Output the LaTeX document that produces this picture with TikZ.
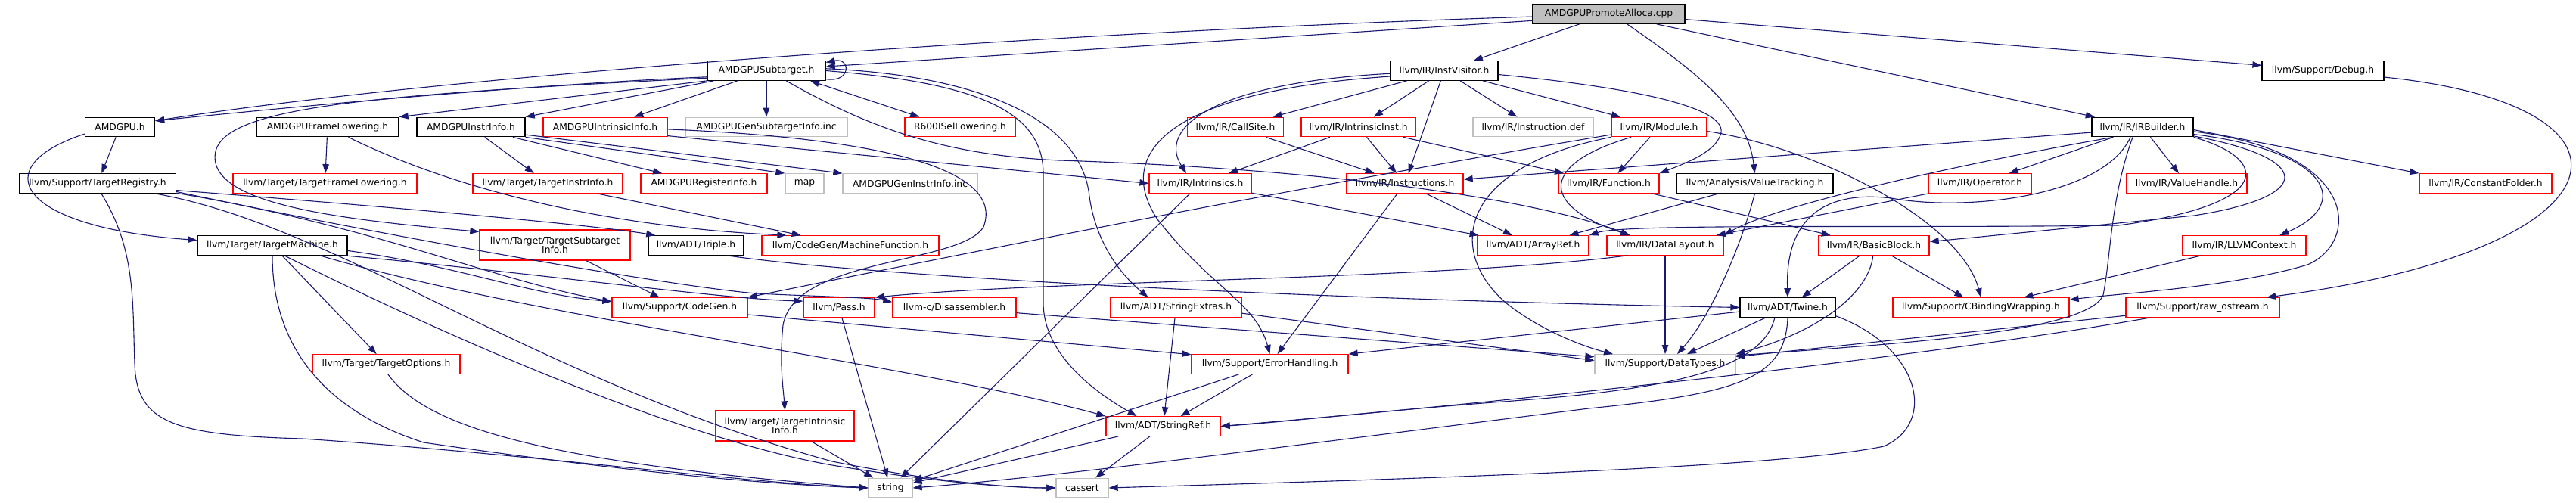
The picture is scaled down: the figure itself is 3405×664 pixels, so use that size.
\documentclass[tikz,border=0pt]{standalone}
\usepackage{fontspec}
\setmainfont{DejaVu Sans}
\usetikzlibrary{arrows.meta}
\definecolor{edgeblue}{HTML}{191970}
\definecolor{ngray}{HTML}{BFBFBF}
\definecolor{nred}{HTML}{FF0000}
\begin{document}
\begin{tikzpicture}[x=1pt,y=-1pt,
  box/.style={rectangle, inner sep=0pt, minimum height=25.5pt, font=\fontsize{12.3}{14.5}\selectfont, line width=1.3pt, fill=white, align=center},
  bk/.style={box, draw=black},
  rd/.style={box, draw=nred},
  gr/.style={box, draw=ngray},
  e/.style={draw=edgeblue, line width=1.1pt, -{Triangle[length=12pt,width=8.5pt]}},
  e2/.style={draw=edgeblue, line width=1.1pt, {Triangle[length=12pt,width=8.5pt]}-{Triangle[length=12pt,width=8.5pt]}}]
\useasboundingbox (0,0) rectangle (3405,664);
% rank 0-1
\node[bk,fill=ngray,minimum width=201pt] (P) at (2126.5,18.5) {AMDGPUPromoteAlloca.cpp};
\node[bk,minimum width=156pt] (SUB) at (1013,93.5) {AMDGPUSubtarget.h};
\node[bk,minimum width=142pt] (IV) at (1909,93.5) {llvm/IR/InstVisitor.h};
\node[bk,minimum width=161pt] (DBG) at (3070.5,93.5) {llvm/Support/Debug.h};
% rank 2
\node[bk,minimum width=92pt] (AMDGPU) at (158.5,168) {AMDGPU.h};
\node[bk,minimum width=188pt] (FL) at (433,168) {AMDGPUFrameLowering.h};
\node[bk,minimum width=143pt] (II) at (622.5,168) {AMDGPUInstrInfo.h};
\node[rd,minimum width=164pt] (IIN) at (800,168) {AMDGPUIntrinsicInfo.h};
\node[gr,minimum width=214pt] (GSI) at (1013,168) {AMDGPUGenSubtargetInfo.inc};
\node[rd,minimum width=146pt] (R600) at (1269,168) {R600ISelLowering.h};
\node[rd,minimum width=127pt] (CS) at (1633,168) {llvm/IR/CallSite.h};
\node[rd,minimum width=151pt] (IInst) at (1795.5,168) {llvm/IR/IntrinsicInst.h};
\node[gr,minimum width=159pt] (IDEF) at (2026.5,168) {llvm/IR/Instruction.def};
\node[rd,minimum width=126pt] (MOD) at (2193,168) {llvm/IR/Module.h};
\node[bk,minimum width=134pt] (IRB) at (2832,168) {llvm/IR/IRBuilder.h};
% rank 3
\node[bk,minimum width=207pt] (TR) at (129,242.5) {llvm/Support/TargetRegistry.h};
\node[rd,minimum width=243pt] (TFL) at (429.5,242.5) {llvm/Target/TargetFrameLowering.h};
\node[rd,minimum width=198pt] (TII) at (724,242.5) {llvm/Target/TargetInstrInfo.h};
\node[rd,minimum width=167pt] (RI) at (930.5,242.5) {AMDGPURegisterInfo.h};
\node[gr,minimum width=51pt] (MAP) at (1063.5,242.5) {map};
\node[gr,minimum width=178pt] (GII) at (1203,242.5) {AMDGPUGenInstrInfo.inc};
\node[rd,minimum width=135pt] (INTR) at (1586.5,242.5) {llvm/IR/Intrinsics.h};
\node[rd,minimum width=154pt] (INS) at (1857,242.5) {llvm/IR/Instructions.h};
\node[rd,minimum width=133pt] (FN) at (2126.5,242.5) {llvm/IR/Function.h};
\node[bk,minimum width=207pt] (VT) at (2319.5,242.5) {llvm/Analysis/ValueTracking.h};
\node[rd,minimum width=136pt] (OP) at (2617,242.5) {llvm/IR/Operator.h};
\node[rd,minimum width=159pt] (VH) at (2890.5,242.5) {llvm/IR/ValueHandle.h};
\node[rd,minimum width=175pt] (CF) at (3285.5,242.5) {llvm/IR/ConstantFolder.h};
% rank 4
\node[bk,minimum width=198pt] (TM) at (360,324.5) {llvm/Target/TargetMachine.h};
\node[rd,minimum width=199pt,minimum height=40pt] (TSI) at (733.5,324) {llvm/Target/TargetSubtarget\\[-2pt]Info.h};
\node[bk,minimum width=126pt] (TRI) at (920,324.5) {llvm/ADT/Triple.h};
\node[rd,minimum width=234pt] (MF) at (1124,324.5) {llvm/CodeGen/MachineFunction.h};
\node[rd,minimum width=147pt] (AR) at (2026.5,324.5) {llvm/ADT/ArrayRef.h};
\node[rd,minimum width=154pt] (DL) at (2201,324.5) {llvm/IR/DataLayout.h};
\node[rd,minimum width=146pt] (BB) at (2477,324.5) {llvm/IR/BasicBlock.h};
\node[rd,minimum width=163pt] (CTX) at (2966.5,324.5) {llvm/IR/LLVMContext.h};
% rank 5
\node[rd,minimum width=179pt] (CG) at (898.5,406.5) {llvm/Support/CodeGen.h};
\node[rd,minimum width=94pt] (PASS) at (1109,406.5) {llvm/Pass.h};
\node[rd,minimum width=163pt] (DIS) at (1261.5,406.5) {llvm-c/Disassembler.h};
\node[rd,minimum width=173pt] (SE) at (1554.5,406.5) {llvm/ADT/StringExtras.h};
\node[bk,minimum width=126pt] (TW) at (2363,406.5) {llvm/ADT/Twine.h};
\node[rd,minimum width=233pt] (CBW) at (2618.5,406.5) {llvm/Support/CBindingWrapping.h};
\node[rd,minimum width=203pt] (RAW) at (2911.5,406.5) {llvm/Support/raw\_ostream.h};
% rank 6
\node[rd,minimum width=195pt] (TO) at (510.5,481.5) {llvm/Target/TargetOptions.h};
\node[rd,minimum width=207pt] (EH) at (1678.5,481.5) {llvm/Support/ErrorHandling.h};
\node[gr,minimum width=186pt] (DT) at (2201,481.5) {llvm/Support/DataTypes.h};
% rank 7
\node[rd,minimum width=183pt,minimum height=40pt] (TIIn) at (1037.5,563) {llvm/Target/TargetIntrinsic\\[-2pt]Info.h};
\node[rd,minimum width=151pt] (SR) at (1537.5,563.5) {llvm/ADT/StringRef.h};
% rank 8
\node[gr,minimum width=58pt] (STR) at (1177,645) {string};
\node[gr,minimum width=69pt] (CAS) at (1430.5,645) {cassert};

% ---- edges ----
% P
\draw[e] (P.185) -- (SUB.4);
\draw[e] (P.182) .. controls (1400,42) and (600,98) .. (AMDGPU.10);
\draw[e] (P) -- (IV);
\draw[e] (P.-29) .. controls (2250,100) and (2310,150) .. (VT.north);
\draw[e] (P) -- (IRB);
\draw[e] (P.-4) -- (DBG.175);
% SUB
\draw[e] (SUB.-8) .. controls (1125,110) and (1125,76) .. (SUB.8);
\draw[e] (SUB.186) .. controls (700,112) and (400,140) .. (AMDGPU.10);
\draw[e] (SUB.south west) -- (FL.north east);
\draw[e] (SUB.187) .. controls (500,125) and (300,140) .. (285,200) .. controls (270,270) and (450,290) .. (TSI.170);
\draw[e] (SUB) -- (II.north east);
\draw[e] (SUB) -- (IIN);
\draw[e] (SUB) -- (GSI);
\draw[e2] (SUB.-13) -- (R600.166);
\draw[e] (SUB.2) .. controls (1300,100) and (1430,160) .. (1440,260) .. controls (1450,330) and (1490,370) .. (SE.160);
\draw[e] (SUB.0) .. controls (1300,110) and (1379,150) .. (1379,230) -- (1379,400) .. controls (1379,470) and (1450,520) .. (SR.159);
\draw[e] (SUB.-27) .. controls (1150,170) and (1250,205) .. (1400,212) .. controls (1800,225) and (2050,270) .. (DL.164);
% AMDGPU, FL, II, IIN
\draw[e] (AMDGPU) -- (TR);
\draw[e] (AMDGPU.191) .. controls (-20,220) and (20,300) .. (TM.176);
\draw[e] (FL) -- (TFL);
\draw[e] (FL.-26) .. controls (600,250) and (800,300) .. (MF.171);
\draw[e] (II) -- (TII);
\draw[e] (II) -- (RI);
\draw[e] (II.south east) -- (MAP.north west);
\draw[e] (II.-8) -- (GII.north west);
\draw[e] (IIN.-8) -- (INTR.west);
\draw[e] (IIN.-2) .. controls (1150,182) and (1330,220) .. (1300,300) .. controls (1270,350) and (1050,340) .. (1035,430) .. controls (1030,480) and (1035,510) .. (TIIn.north);
\draw[e] (TII) -- (MF);
% IV
\draw[e] (IV) -- (CS);
\draw[e] (IV) -- (IInst);
\draw[e] (IV) -- (IDEF);
\draw[e] (IV) -- (MOD);
\draw[e] (IV) -- (INS);
\draw[e] (IV.-4) .. controls (2150,115) and (2280,140) .. (2275,175) .. controls (2270,200) and (2230,215) .. (FN.north east);
\draw[e] (IV.183) .. controls (1600,110) and (1530,170) .. (INTR.144);
\draw[e] (IV.186) .. controls (1550,120) and (1470,200) .. (1530,290) .. controls (1600,380) and (1660,400) .. (EH.north);
% DBG
\draw[e] (DBG.-6) .. controls (3520,140) and (3480,330) .. (RAW.9);
% IRB
\draw[e] (IRB.186) -- (INS.4);
\draw[e] (IRB) -- (OP);
\draw[e] (IRB) -- (VH);
\draw[e] (IRB.-3) -- (CF.north west);
\draw[e] (IRB.-5) .. controls (3120,200) and (3120,320) .. (3050,350) .. controls (2950,380) and (2800,388) .. (CBW.5);
\draw[e] (IRB.-8) .. controls (3080,200) and (3110,270) .. (CTX.16);
\draw[e] (IRB.-10) .. controls (3060,210) and (3060,260) .. (2900,285) .. controls (2700,305) and (2600,315) .. (BB.4);
\draw[e] (IRB.south east) .. controls (3000,210) and (3010,270) .. (2800,298) .. controls (2500,302) and (2150,295) .. (AR.north east);
\draw[e] (IRB.-161) .. controls (2600,215) and (2350,270) .. (DL.north east);
\draw[e] (IRB.-140) .. controls (2780,260) and (2600,280) .. (2500,262) .. controls (2400,250) and (2360,300) .. (TW.north);
\draw[e] (IRB.-134) .. controls (2790,260) and (2790,340) .. (2780,390) .. controls (2760,440) and (2500,455) .. (DT.7);
% IR level
\draw[e] (CS) -- (INS);
\draw[e] (IInst) -- (INS);
\draw[e] (IInst) -- (INTR);
\draw[e] (IInst) -- (FN);
\draw[e] (MOD) -- (FN);
\draw[e] (MOD.189) .. controls (1700,250) and (1300,330) .. (CG.north east);
\draw[e] (MOD.south west) .. controls (1930,220) and (1910,330) .. (1990,400) .. controls (2040,440) and (2100,460) .. (DT.169);
\draw[e] (MOD.-160) .. controls (2040,215) and (2030,270) .. (DL.164);
\draw[e] (MOD.-5) .. controls (2400,195) and (2590,290) .. (CBW.north);
\draw[e] (FN) -- (BB);
\draw[e] (INS) -- (AR);
\draw[e] (INS) -- (EH);
\draw[e] (INTR) -- (AR);
\draw[e] (INTR) -- (STR);
\draw[e] (VT) -- (AR);
\draw[e] (VT.south) .. controls (2300,330) and (2260,420) .. (DT.40);
\draw[e] (OP) -- (DL);
\draw[e] (DL) -- (DT);
\draw[e] (DL.-165) .. controls (1900,370) and (1400,370) .. (PASS.north east);
\draw[e] (BB) -- (TW);
\draw[e] (BB) -- (CBW);
\draw[e] (BB.-95) .. controls (2470,390) and (2400,440) .. (DT.north east);
\draw[e] (CTX) -- (CBW);
\draw[e] (RAW) -- (DT);
\draw[e] (RAW.191) .. controls (2500,480) and (1900,540) .. (SR.east);
\draw[e] (TW) -- (DT);
\draw[e] (TW.-142) .. controls (2330,490) and (2200,515) .. (2000,530) .. controls (1800,545) and (1700,558) .. (SR.east);
\draw[e] (TW.-175) -- (EH.north east);
\draw[e] (TW.-10) .. controls (2540,460) and (2560,560) .. (2490,590) .. controls (2350,620) and (1800,635) .. (CAS.east);
\draw[e] (TW.south) .. controls (2360,500) and (2300,520) .. (2100,540) .. controls (1700,590) and (1400,630) .. (STR.east);
\draw[e] (TRI.-18) .. controls (1150,365) and (1700,395) .. (TW.west);
% Target level
\draw[e] (TR.-5) .. controls (600,280) and (800,300) .. (TRI.166);
\draw[e] (TR.-7) .. controls (500,300) and (650,370) .. (CG.175);
\draw[e] (TR.-6) .. controls (550,320) and (900,380) .. (1000,388) .. controls (1080,392) and (1150,393) .. (DIS.175);
\draw[e] (TR.-10) .. controls (450,300) and (700,500) .. (1100,610) .. controls (1250,640) and (1350,645) .. (CAS.west);
\draw[e] (TR.-70) .. controls (180,330) and (175,400) .. (178,480) .. controls (180,560) and (230,575) .. (400,580) .. controls (700,600) and (1000,640) .. (STR.west);
\draw[e] (TM) -- (TO);
\draw[e] (TM.south) .. controls (360,450) and (420,540) .. (560,585) .. controls (800,620) and (1000,640) .. (STR.west);
\draw[e] (TM.-40) .. controls (600,450) and (900,580) .. (1100,615) .. controls (1250,640) and (1350,645) .. (CAS.west);
\draw[e] (TM.-12) .. controls (700,420) and (1200,480) .. (SR.170);
\draw[e] (TM.-4) .. controls (600,350) and (700,390) .. (CG.175);
\draw[e] (TM.-8) .. controls (700,360) and (950,395) .. (PASS.170);
\draw[e] (TO.-80) .. controls (560,560) and (700,610) .. (STR.west);
\draw[e] (TSI) -- (CG);
\draw[e] (CG.-6) -- (EH.173);
\draw[e] (PASS) -- (STR);
\draw[e] (DIS.-5) -- (DT.174);
\draw[e] (SE.-5) -- (DT.177);
\draw[e] (SE) -- (SR);
\draw[e] (EH) -- (SR);
\draw[e] (EH) -- (STR);
\draw[e] (SR) -- (STR);
\draw[e] (SR) -- (CAS);
\draw[e] (TIIn) -- (STR);
\end{tikzpicture}
\end{document}
